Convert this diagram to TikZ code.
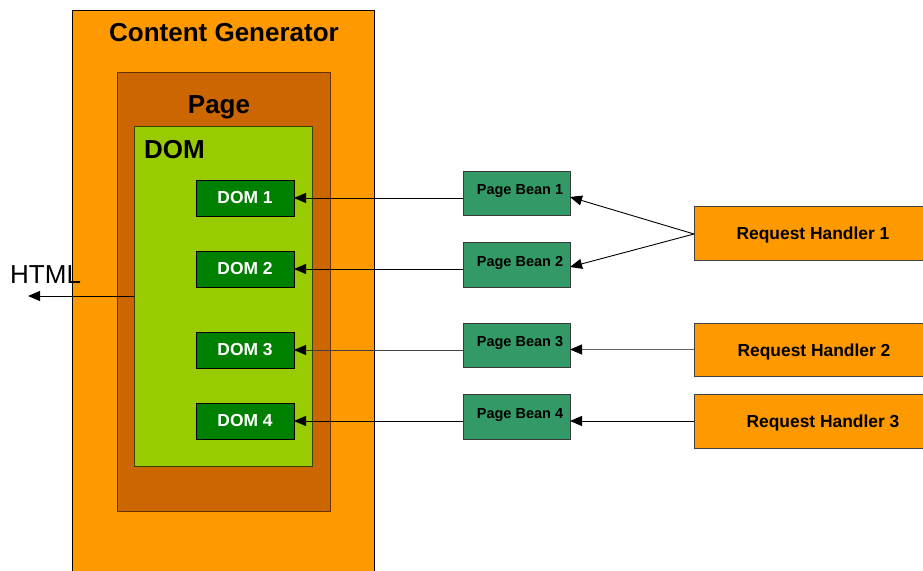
\documentclass[tikz,border=0pt]{standalone}
\usepackage{fontspec}
\setmainfont{Liberation Sans}
\usetikzlibrary{arrows.meta}
\definecolor{cgorange}{HTML}{FF9900}
\definecolor{pagebrown}{HTML}{CC6600}
\definecolor{pageedge}{HTML}{663300}
\definecolor{domlime}{HTML}{99CC00}
\definecolor{domedge}{HTML}{334400}
\definecolor{domgreen}{HTML}{008000}
\definecolor{beangreen}{HTML}{339966}
\definecolor{beanedge}{HTML}{3A3A3A}
\definecolor{rhedge}{HTML}{404040}
\begin{document}
\begin{tikzpicture}[x=1pt,y=-1pt,
  box/.style={anchor=north west, inner sep=0pt, outer sep=0pt, line width=0.9pt},
  titlefont/.style={font=\fontsize{26}{30}\selectfont\bfseries},
  domitem/.style={box, draw=black, fill=domgreen, minimum width=98pt, minimum height=36pt,
    text=white, font=\fontsize{17.4}{20}\selectfont\bfseries},
  bean/.style={box, draw=beanedge, fill=beangreen, minimum width=107pt, minimum height=45pt},
  beanlabel/.style={anchor=base, inner sep=0pt, font=\fontsize{14.5}{17}\selectfont\bfseries},
  handler/.style={box, draw=rhedge, fill=cgorange, minimum width=240pt, minimum height=54pt},
  handlerlabel/.style={anchor=base, inner sep=0pt, font=\fontsize{17.4}{20}\selectfont\bfseries},
  arr/.style={-{Triangle[length=12pt,width=10pt,color=black]}, line width=0.9pt, draw=black}
]
\useasboundingbox (0,0) rectangle (923,570);
\clip (0,0) rectangle (923,570);

% nested containers
\node[box, draw=black, fill=cgorange, minimum width=302pt, minimum height=580pt] (cg) at (72,10) {};
\node[titlefont, anchor=base, inner sep=0pt] (cgtitle) at (224,41) {Content Generator};
\node[box, draw=pageedge, fill=pagebrown, minimum width=213pt, minimum height=439pt] (page) at (117,72) {};
\node[titlefont, anchor=base, inner sep=0pt] (pagetitle) at (219,113) {Page};
\node[box, draw=domedge, fill=domlime, minimum width=178pt, minimum height=340pt] (dom) at (134,126) {};
\node[titlefont, anchor=base west, inner sep=0pt] (domtitle) at (144,158) {DOM};

% DOM parts
\node[domitem] (dom1) at (196,180) {DOM 1};
\node[domitem] (dom2) at (196,251) {DOM 2};
\node[domitem] (dom3) at (196,332) {DOM 3};
\node[domitem] (dom4) at (196,403) {DOM 4};

% page beans
\node[bean, minimum height=44pt] (pb1) at (463,171) {};
\node[bean] (pb2) at (463,242) {};
\node[bean, minimum height=44pt] (pb3) at (463,323) {};
\node[bean] (pb4) at (463,394) {};
\node[beanlabel] (pb1t) at (520,194) {Page Bean 1};
\node[beanlabel] (pb2t) at (520,266) {Page Bean 2};
\node[beanlabel] (pb3t) at (520,346.7) {Page Bean 3};
\node[beanlabel] (pb4t) at (520,418) {Page Bean 4};

% request handlers
\node[handler] (rh1) at (694,206) {};
\node[handler, minimum height=53pt] (rh2) at (694,323) {};
\node[handler] (rh3) at (694,394) {};
\node[handlerlabel] (rh1t) at (813,239) {Request Handler 1};
\node[handlerlabel] (rh2t) at (814,356) {Request Handler 2};
\node[handlerlabel] (rh3t) at (823,427) {Request Handler 3};

% output
\coordinate (htmlend) at (28,296);
\node[anchor=base west, inner sep=0pt, font=\fontsize{26}{30}\selectfont] (html) at (10,283) {HTML};

% connectors
\draw[arr] (dom.west |- htmlend) -- (htmlend);
\draw[arr] (dom1.east -| pb1.west) -- (dom1.east);
\draw[arr] (dom2.east -| pb2.west) -- (dom2.east);
\draw[arr, draw=black!75] (dom3.east -| pb3.west) -- (dom3.east);
\draw[arr] (dom4.east -| pb4.west) -- (dom4.east);
\draw[arr] ([yshift=-1pt]rh1.west) -- ([yshift=-4pt]pb1.east);
\draw[arr] ([yshift=-1pt]rh1.west) -- ([yshift=-2.5pt]pb2.east);
\draw[arr, draw=black!60] (rh2.west) -- (rh2.west -| pb3.east);
\draw[arr] (rh3.west) -- (rh3.west -| pb4.east);
\end{tikzpicture}
\end{document}
